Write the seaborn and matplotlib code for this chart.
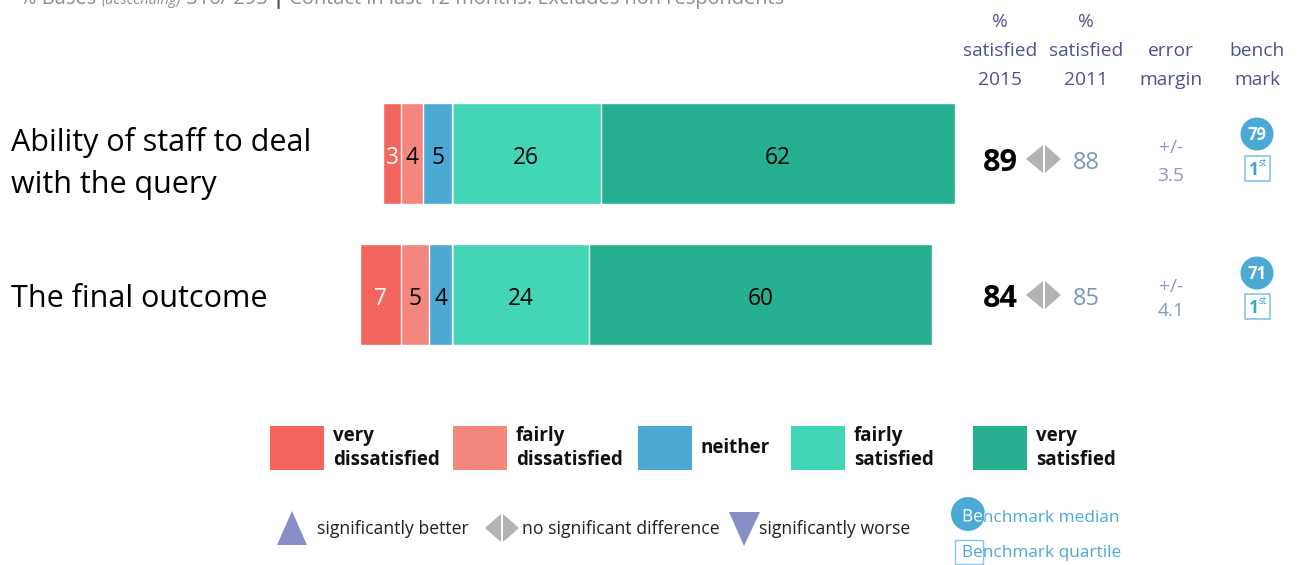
import matplotlib
matplotlib.use("Agg")
import matplotlib.pyplot as plt
import seaborn as sns
import numpy as np
from matplotlib.patches import Rectangle, Circle, Polygon, PathPatch
from matplotlib.textpath import TextPath
from matplotlib.font_manager import FontProperties
from matplotlib.transforms import Affine2D

# ---------------- data ----------------
items = ["Ability of staff to deal\nwith the query", "The final outcome"]
very_dissatisfied = [3, 7]
fairly_dissatisfied = [4, 5]
neither = [5, 4]
fairly_satisfied = [26, 24]
very_satisfied = [62, 60]
satisfied_2015 = [89, 84]
satisfied_2011 = [88, 85]
error_margin = ["3.5", "4.1"]
benchmark_median = [79, 71]
benchmark_quartile = ["1", "1"]
legend_labels = ["very\ndissatisfied", "fairly\ndissatisfied", "neither",
                 "fairly\nsatisfied", "very\nsatisfied"]
palette = ["#F2665E", "#F4877D", "#4BA9D4", "#43D6B6", "#26AF90"]
header_cols = ["%\nsatisfied\n2015", "%\nsatisfied\n2011", "error\nmargin", "bench\nmark"]
title_parts = ["% Bases ", "(descending)", " 316/ 293 ", "|", " Contact in last 12 months. Excludes non respondents"]

# ---------------- figure ----------------
sns.set_theme(style="white")
plt.rcParams["font.family"] = ["Open Sans", "DejaVu Sans"]

W, H = 1303, 565
fig = plt.figure(figsize=(W / 100, H / 100), dpi=100)
fig.patch.set_facecolor("white")
renderer = fig.canvas.get_renderer()


def fit(s, target_w, weight="normal", style="normal", base=20.0):
    t = fig.text(0, 0, s, fontsize=base, fontweight=weight, fontstyle=style)
    w = t.get_window_extent(renderer).width
    t.remove()
    return base * target_w / w


# bar axes (full figure, data units)
ax = fig.add_axes([0, 0, 1, 1])
S = 5.72          # px per percentage point
X0 = 452          # px position of zero
Y1, DY = 153.5, 141.0
bar_w = 101 / DY

vd = np.array(very_dissatisfied)
fd = np.array(fairly_dissatisfied)
ne = np.array(neither)
fs = np.array(fairly_satisfied)
vs = np.array(very_satisfied)

layers = [
    (fs + vs, palette[4]),
    (fs, palette[3]),
    (-(vd + fd + ne), palette[0]),
    (-(fd + ne), palette[1]),
    (-ne, palette[2]),
]
for vals, c in layers:
    sns.barplot(x=vals, y=items, orient="h", color=c, saturation=1,
                width=bar_w, edgecolor="white", linewidth=1.0,
                errorbar=None, ax=ax)

ax.set_xlim(-X0 / S, (W - X0) / S)
ax.set_ylim((H - Y1) / DY, -Y1 / DY)
ax.axis("off")

# segment value labels
bar_fs = fit("62", 26)
dy_lab = 4.5 / DY
for i in range(len(items)):
    segs = [(-(vd[i] + fd[i] + ne[i]), vd[i], "white"),
            (-(fd[i] + ne[i]), fd[i], "black"),
            (-ne[i], ne[i], "black"),
            (0, fs[i], "black"),
            (fs[i], vs[i], "black")]
    for start, w, col in segs:
        ax.text(start + w / 2, i + dy_lab, f"{w}", ha="center", va="center",
                fontsize=bar_fs, color=col)

# overlay axes in pixel coordinates
ov = fig.add_axes([0, 0, 1, 1])
ov.set_xlim(0, W)
ov.set_ylim(H, 0)
ov.axis("off")
ov.patch.set_alpha(0)

# title line (mostly clipped at the top)
def title_width(size):
    tot = 0
    for k, part in enumerate(title_parts):
        t = fig.text(0, 0, part, fontsize=size * (0.72 if k == 1 else 1),
                     fontstyle="italic" if k == 1 else "normal",
                     fontweight="bold" if part == "|" else "normal")
        tot += t.get_window_extent(renderer).width
        t.remove()
    return tot

tfs = 15.0 * 762 / title_width(15.0)
x = 20
for k, part in enumerate(title_parts):
    style = "italic" if k == 1 else "normal"
    size = tfs * 0.72 if k == 1 else tfs
    weight = "bold" if part == "|" else "normal"
    col = "#555555" if part == "|" else "#8E8E8E"
    t = ov.text(x, 4, part, fontsize=size, fontstyle=style, fontweight=weight,
                color=col, ha="left", va="baseline")
    x += t.get_window_extent(renderer).width

# item labels
lab_fs = fit("Ability of staff to deal", 300)
ov.text(11, 143, "Ability of staff to deal", fontsize=lab_fs, ha="left", va="center", color="black")
ov.text(11, 185, "with the query", fontsize=lab_fs, ha="left", va="center", color="black")
ov.text(11, 299, items[1], fontsize=lab_fs, ha="left", va="center", color="black")

# headers
head_fs = fit("satisfied", 74)
col_x = [1000, 1086, 1171, 1257]
hdr_color = "#4D5390"
for cx, h in zip(col_x, header_cols):
    lines = h.split("\n")
    ys = [22, 51, 80][-len(lines):]
    for ln, yy in zip(lines, ys):
        ov.text(cx, yy, ln, fontsize=head_fs, ha="center", va="center", color=hdr_color)

# right-hand columns
big_fs = fit("89", 35, weight="bold")
prev_fs = fit("88", 27)
err_fs = fit("3.5", 27)
circ_fs = fit("79", 19, weight="bold")
grey = "#B3B3B3"
row_num_y = [159, 295]
row_circ_y = [134, 273]
row_box_y = [168, 306]
row_err_y = [(148, 176), (287, 311)]
for i in range(len(items)):
    y = row_num_y[i]
    ov.text(1000, y + 4, f"{satisfied_2015[i]}", fontsize=big_fs, fontweight="bold",
            ha="center", va="center", color="black")
    ov.add_patch(Polygon([[1026, y], [1043, y - 14], [1043, y + 14]], closed=True,
                         facecolor=grey, edgecolor="none"))
    ov.add_patch(Polygon([[1061, y], [1045, y - 14], [1045, y + 14]], closed=True,
                         facecolor=grey, edgecolor="none"))
    ov.text(1086, y + 4, f"{satisfied_2011[i]}", fontsize=prev_fs, ha="center",
            va="center", color="#7E95B9")
    ov.text(1171, row_err_y[i][0], "+/-", fontsize=err_fs, ha="center", va="center", color="#8A9BBA")
    ov.text(1171, row_err_y[i][1], error_margin[i], fontsize=err_fs, ha="center", va="center", color="#8A9BBA")
    cy = row_circ_y[i]
    ov.add_patch(Circle((1257, cy), 16.5, facecolor="#4BA9D5", edgecolor="none"))
    ov.text(1257, cy + 1, f"{benchmark_median[i]}", fontsize=circ_fs, fontweight="bold",
            ha="center", va="center", color="white")
    by = row_box_y[i]
    ov.add_patch(Rectangle((1245, by - 12.5), 25, 25, facecolor="white",
                           edgecolor="#86C6E6", linewidth=1.2))
    ov.text(1254, by + 2, benchmark_quartile[i], fontsize=12.5, fontweight="bold",
            ha="center", va="center", color="#3FA2D3")
    ov.text(1259, by - 5, "st", fontsize=7, ha="left", va="center", color="#3FA2D3")

# colour legend
leg_fs = fit("dissatisfied", 107, weight="bold")
sw_x = [270, 453, 638, 791, 973]
for sx, lab, c in zip(sw_x, legend_labels, palette):
    ov.add_patch(Rectangle((sx, 426), 54, 44, facecolor=c, edgecolor="none"))
    ov.text(sx + 63, 448, lab, fontsize=leg_fs, fontweight="bold", ha="left",
            va="center", color="#111111", linespacing=1.3)

# significance legend
sig_fs = fit("significantly better", 151)
purple = "#8A8EC6"
ov.add_patch(Polygon([[277, 545], [307, 545], [292, 511]], closed=True,
                     facecolor=purple, edgecolor="none"))
ov.text(317, 529, "significantly better", fontsize=sig_fs, ha="left", va="center", color="#222222")
ov.add_patch(Polygon([[485, 528], [501, 514], [501, 542]], closed=True, facecolor=grey, edgecolor="none"))
ov.add_patch(Polygon([[519, 528], [503, 514], [503, 542]], closed=True, facecolor=grey, edgecolor="none"))
ov.text(522, 529, "no significant difference", fontsize=sig_fs, ha="left", va="center", color="#222222")
ov.add_patch(Polygon([[729, 512], [760, 512], [744, 546]], closed=True,
                     facecolor=purple, edgecolor="none"))
ov.text(759, 529, "significantly worse", fontsize=sig_fs, ha="left", va="center", color="#222222")

# benchmark legend
bm_fs = fit("Benchmark median", 157)
circ = Circle((968, 514), 17, facecolor="#4BA9D5", edgecolor="none")
ov.add_patch(circ)
base_y = 521.5
ov.text(962, base_y, "Benchmark median", fontsize=bm_fs, ha="left", va="baseline", color="#4BA9D5")
tp = TextPath((0, 0), "Benchmark median", size=bm_fs * 100 / 72,
              prop=FontProperties(family="Open Sans"))
white_part = PathPatch(tp, facecolor="white", edgecolor="none", zorder=5,
                       transform=Affine2D().scale(1, -1).translate(962, base_y) + ov.transData)
ov.add_patch(white_part)
white_part.set_clip_path(circ)
ov.add_patch(Rectangle((955, 540), 28, 24, facecolor="none", edgecolor="#86C6E6", linewidth=1))
ov.text(962, 553, "Benchmark quartile", fontsize=bm_fs, ha="left", va="center", color="#4BA9D5")

fig.savefig("out.png", dpi=100, facecolor="white")
